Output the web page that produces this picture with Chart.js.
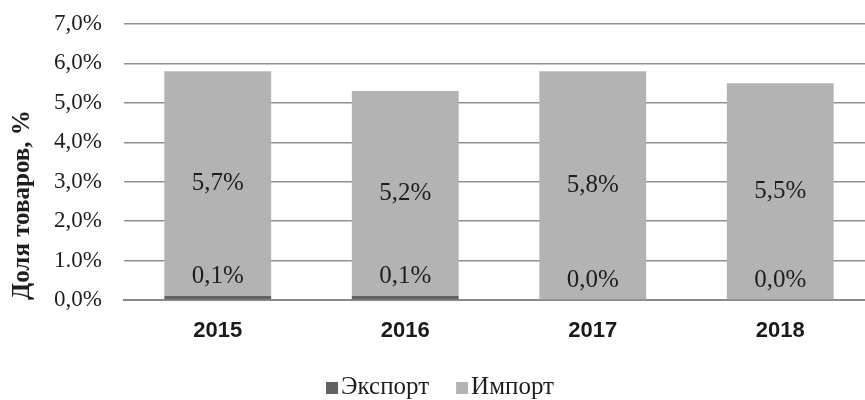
<!DOCTYPE html>
<html><head><meta charset="utf-8">
<script src="https://cdn.jsdelivr.net/npm/chart.js@4.4.1/dist/chart.umd.min.js"></script>
<style>html,body{margin:0;padding:0;background:#fff;overflow:hidden}#wrap{width:880px;height:400px}</style>
</head><body><div id="wrap"><canvas id="c" width="880" height="400"></canvas></div>
<script>
const categories = ['2015', '2016', '2017', '2018'];
const exportValues = [0.1, 0.1, 0.0, 0.0];
const importValues = [5.7, 5.2, 5.8, 5.5];
const yTickLabels = ['0,0%', '1.0%', '2,0%', '3,0%', '4,0%', '5,0%', '6,0%', '7,0%'];
const seriesNames = ['Экспорт', 'Импорт'];
const seriesColors = ['#626262', '#b3b3b3'];
const yAxisTitle = 'Доля товаров, %';

const SERIF = '"Liberation Serif", "Times New Roman", serif';
const SANS = '"Liberation Sans", Arial, sans-serif';

function fmt(v) { return v.toFixed(1).replace('.', ',') + '%'; }

const valueLabels = {
  id: 'valueLabels',
  afterDatasetsDraw(chart) {
    const ctx = chart.ctx;
    ctx.save();
    ctx.font = '25px ' + SERIF;
    ctx.fillStyle = '#1e1e1e';
    ctx.textAlign = 'center';
    ctx.textBaseline = 'middle';
    chart.data.datasets.forEach((ds, di) => {
      const meta = chart.getDatasetMeta(di);
      meta.data.forEach((bar, i) => {
        const v = ds.data[i];
        const top = Math.min(bar.y, bar.base), bot = Math.max(bar.y, bar.base);
        let y = (top + bot) / 2;
        if (di === 0) y = Math.min(y, top - 20);
        ctx.fillText(fmt(v), bar.x, y);
      });
    });
    ctx.restore();
  }
};

const customLegend = {
  id: 'customLegend',
  afterDraw(chart) {
    const ctx = chart.ctx;
    ctx.save();
    ctx.font = '25px ' + SERIF;
    ctx.textBaseline = 'middle';
    ctx.textAlign = 'left';
    const box = 12, gap = 3, itemGap = 27;
    const items = chart.data.datasets.map(ds => ({ label: ds.label, color: ds.backgroundColor, w: ctx.measureText(ds.label).width }));
    let total = 0;
    items.forEach((it, i) => { total += box + gap + it.w + (i ? itemGap : 0); });
    let x = chart.width / 2 - total / 2;
    const yc = 387;
    items.forEach((it, i) => {
      if (i) x += itemGap;
      ctx.fillStyle = it.color;
      ctx.fillRect(x, yc - box / 2 + 1, box, box);
      x += box + gap;
      ctx.fillStyle = '#1e1e1e';
      ctx.fillText(it.label, x, yc);
      x += it.w;
    });
    ctx.restore();
  }
};

new Chart(document.getElementById('c'), {
  type: 'bar',
  data: {
    labels: categories,
    datasets: [
      { label: seriesNames[0], data: exportValues, backgroundColor: seriesColors[0], borderWidth: 0, barPercentage: 0.57, categoryPercentage: 1 },
      { label: seriesNames[1], data: importValues, backgroundColor: seriesColors[1], borderWidth: 0, barPercentage: 0.57, categoryPercentage: 1 }
    ]
  },
  options: {
    responsive: false,
    animation: false,
    layout: { autoPadding: false, padding: { top: 24, left: 0, right: 6, bottom: 40 } },
    plugins: { legend: { display: false }, tooltip: { enabled: false } },
    scales: {
      x: {
        stacked: true,
        grid: { display: false, drawTicks: false },
        border: { display: true, color: '#8a8a8a', width: 2 },
        ticks: { font: { family: SANS, size: 22, weight: 'bold' }, color: '#1a1a1a', padding: 18 },
        afterFit(scale) { scale.height = 60; }
      },
      y: {
        stacked: true,
        min: 0, max: 7,
        ticks: {
          stepSize: 1,
          font: { family: SERIF, size: 23 },
          color: '#1e1e1e',
          padding: 22,
          callback: (v, i) => yTickLabels[i]
        },
        grid: { color: '#8f8f8f', lineWidth: 1.5, drawTicks: false },
        border: { display: false },
        title: {
          display: true,
          text: yAxisTitle,
          align: 'start',
          font: { family: SERIF, size: 25, weight: 'bold' },
          color: '#1e1e1e',
          padding: { top: 8, bottom: 0 }
        },
        afterFit(scale) { scale.width = 124; scale.paddingTop = 0; scale.paddingBottom = 0; }
      }
    }
  },
  plugins: [valueLabels, customLegend]
});
</script>
</body></html>
